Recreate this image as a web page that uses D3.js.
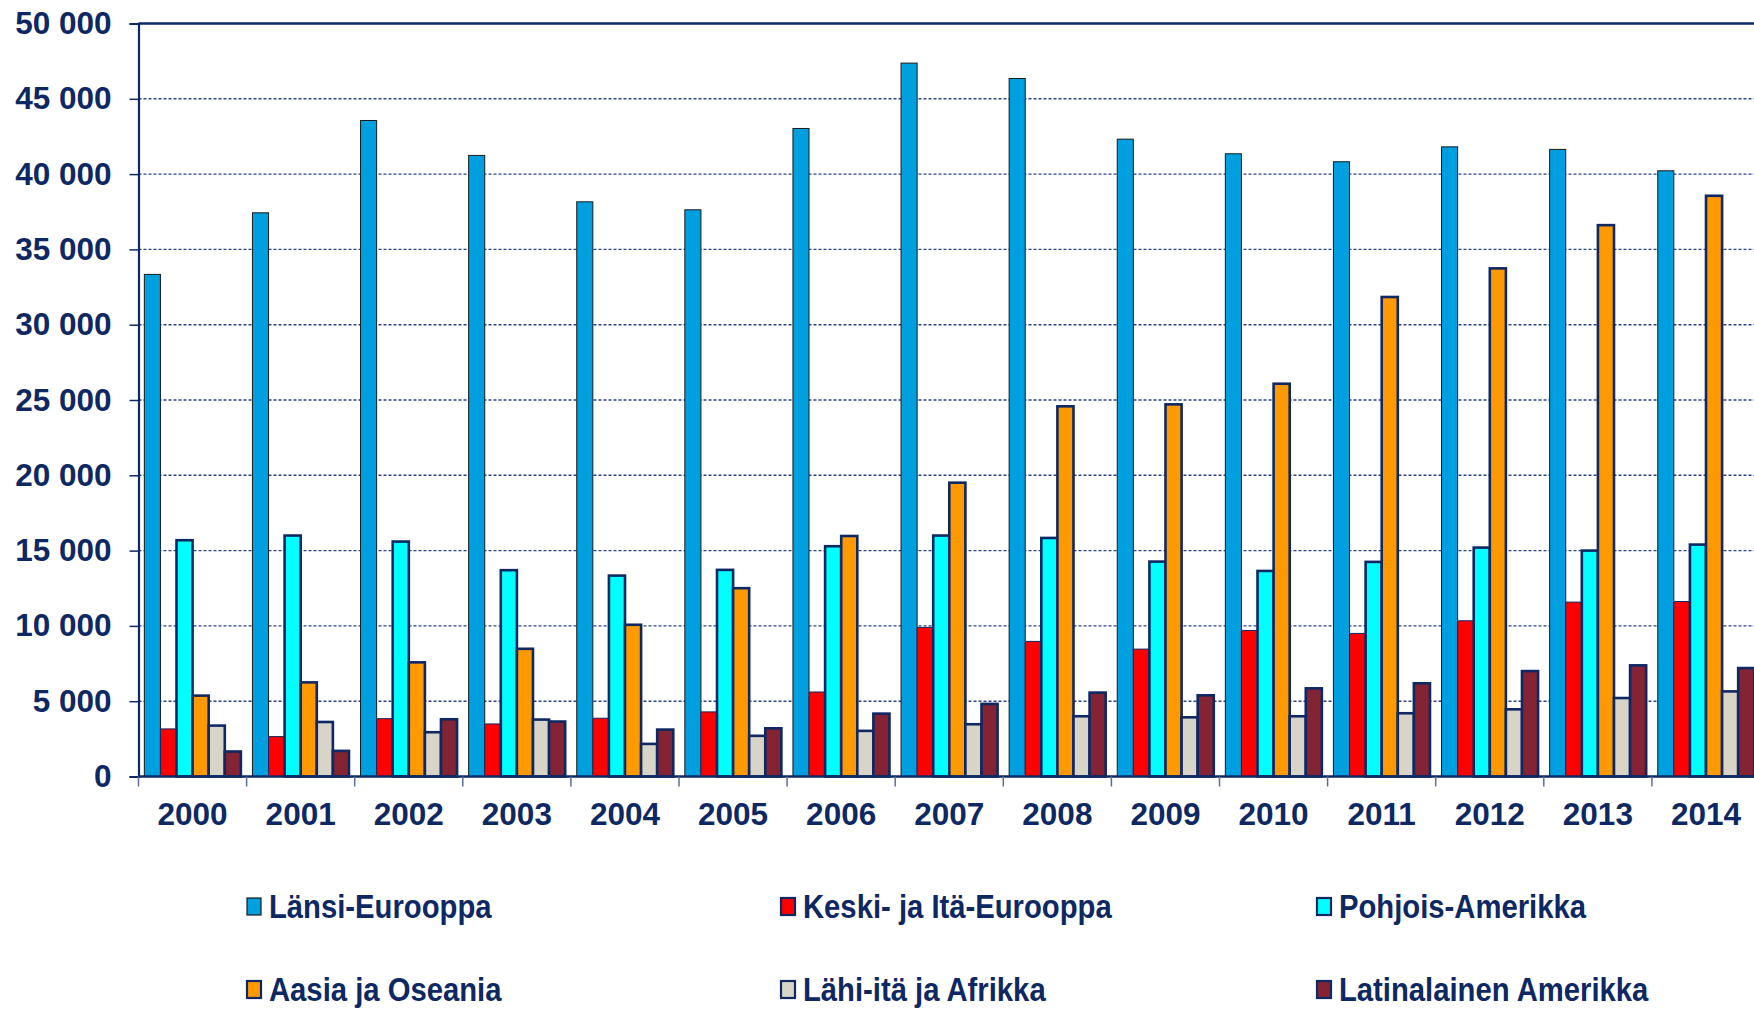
<!DOCTYPE html>
<html>
<head>
<meta charset="utf-8">
<script src="https://cdn.jsdelivr.net/npm/d3@7"></script>
<style>
  html, body { margin: 0; padding: 0; background: #ffffff; }
  svg { display: block; }
  text { font-family: "Liberation Sans", Arial, sans-serif; font-weight: bold; fill: #0e2864; }
</style>
</head>
<body>
<svg id="chart" width="1754" height="1011"></svg>
<script>
const years = ["2000","2001","2002","2003","2004","2005","2006","2007","2008","2009","2010","2011","2012","2013","2014"];
const seriesNames = ["Länsi-Eurooppa","Keski- ja Itä-Eurooppa","Pohjois-Amerikka","Aasia ja Oseania","Lähi-itä ja Afrikka","Latinalainen Amerikka"];
const lansiEurooppa   = [33340,37430,43560,41240,38160,37630,43030,47370,46350,42320,41350,40820,41810,41640,40220];
const keskiItaEurooppa= [3160,2650,3840,3490,3870,4290,5610,9900,8970,8460,9700,9500,10340,11580,11620];
const pohjoisAmerikka = [15690,16000,15600,13700,13340,13720,15290,16000,15840,14270,13650,14250,15200,15000,15400];
const aasiaOseania    = [5370,6250,7580,8480,10075,12505,15970,19510,24580,24710,26080,31840,33740,36610,38560];
const lahiItaAfrikka  = [3380,3620,2940,3780,2165,2700,3030,3470,4000,3930,4000,4200,4460,5210,5650];
const latinAmerikka   = [1660,1700,3800,3650,3115,3200,4175,4820,5570,5390,5855,6190,7000,7380,7200];
const yTicks = [0,5000,10000,15000,20000,25000,30000,35000,40000,45000,50000];
const yTickLabels = ["0","5 000","10 000","15 000","20 000","25 000","30 000","35 000","40 000","45 000","50 000"];

const seriesValues = [lansiEurooppa, keskiItaEurooppa, pohjoisAmerikka, aasiaOseania, lahiItaAfrikka, latinAmerikka];
const fills   = ["#009fdf","#ff0000","#00ffff","#ff9900","#d8d4c8","#832334"];
const strokes = ["#1a1a1a","#0e2864","#0e2864","#0e2864","#0e2864","#0e2864"];
const strokeW = [1,1,2.6,2.6,2.6,2.6];
const navy = "#0e2864";

const svg = d3.select("#chart");
const plotLeft = 138.5, plotRight = 1760, plotTop = 23.5, plotBottom = 776.5;

const x0 = d3.scaleBand().domain(years).range([plotLeft, plotRight]).paddingInner(0).paddingOuter(0);
const bw = x0.bandwidth();
const x1 = d3.scaleBand().domain(d3.range(seriesNames.length)).range([bw*0.054, bw*0.947]).padding(0);
const y = d3.scaleLinear().domain([0, 50000]).range([plotBottom, plotTop]);

// gridlines
svg.append("g").selectAll("line").data(yTicks.filter(v => v > 0 && v < 50000)).join("line")
  .attr("x1", plotLeft).attr("x2", 1754)
  .attr("y1", d => y(d)).attr("y2", d => y(d))
  .attr("stroke", "#2a4282").attr("stroke-width", 1.4).attr("stroke-dasharray", "3 2");

// top border
svg.append("line").attr("x1", plotLeft).attr("x2", 1754).attr("y1", y(50000)).attr("y2", y(50000))
  .attr("stroke", navy).attr("stroke-width", 2.5);

// bars
const groups = svg.append("g").selectAll("g").data(years).join("g")
  .attr("transform", d => `translate(${x0(d)},0)`);
groups.selectAll("rect").data((d, i) => seriesValues.map((s, k) => ({k, v: s[i]}))).join("rect")
  .attr("x", d => x1(d.k))
  .attr("width", x1.bandwidth())
  .attr("y", d => y(d.v))
  .attr("height", d => y(0) - y(d.v))
  .attr("fill", d => fills[d.k])
  .attr("stroke", d => strokes[d.k])
  .attr("stroke-width", d => strokeW[d.k]);

// y axis
const yAxis = d3.axisLeft(y).tickValues(yTicks).tickFormat((d, i) => yTickLabels[i]).tickSize(9).tickPadding(18);
const gy = svg.append("g").attr("transform", `translate(${plotLeft},0)`).call(yAxis);
gy.select(".domain").attr("stroke", navy).attr("stroke-width", 2.2);
gy.selectAll(".tick line").attr("stroke", navy).attr("stroke-width", 1.5);
gy.selectAll(".tick text").attr("font-size", 31.5).attr("fill", navy)
  .style("font-family", '"Liberation Sans", Arial, sans-serif').style("font-weight", "bold");

// x axis
const xAxis = d3.axisBottom(x0).tickSize(0).tickPadding(0);
const gx = svg.append("g").attr("transform", `translate(0,${plotBottom})`).call(xAxis);
gx.select(".domain").remove();
gx.append("line").attr("x1", plotLeft).attr("x2", 1754).attr("y1", 0).attr("y2", 0)
  .attr("stroke", navy).attr("stroke-width", 2.5);
gx.selectAll(".tick text").attr("font-size", 31.5).attr("fill", navy).attr("dy", null).attr("y", 48)
  .style("font-family", '"Liberation Sans", Arial, sans-serif').style("font-weight", "bold");
gx.append("g").selectAll("line").data(years).join("line")
  .attr("x1", d => x0(d)).attr("x2", d => x0(d)).attr("y1", 0).attr("y2", 10)
  .attr("stroke", "#5a6e9c").attr("stroke-width", 1.5);

// legend
const legendX = [247, 781, 1317];
const legendY = [907, 990];
const lsx = 0.9;
const leg = svg.append("g").selectAll("g").data(seriesNames).join("g")
  .attr("transform", (d, i) => `translate(${legendX[i % 3]},${legendY[Math.floor(i / 3)]})`);
leg.append("rect").attr("x", 0).attr("y", -9).attr("width", 14).attr("height", 17)
  .attr("fill", (d, i) => fills[i])
  .attr("stroke", (d, i) => strokes[i])
  .attr("stroke-width", (d, i) => i === 0 ? 1.2 : 2.2);
leg.append("text").attr("y", 0).attr("dominant-baseline", "central")
  .attr("font-size", 32.5).attr("transform", `scale(${lsx},1)`)
  .attr("x", 22 / lsx)
  .text(d => d);
</script>
</body>
</html>
